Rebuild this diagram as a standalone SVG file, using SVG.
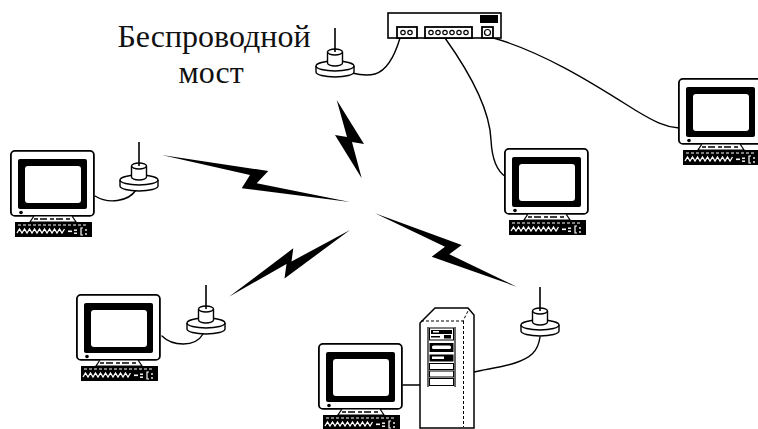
<svg xmlns="http://www.w3.org/2000/svg" width="758" height="429" viewBox="0 0 758 429">
<defs>
<style>
.ln{fill:none;stroke:#000;stroke-width:1.4;stroke-linecap:round}
.bolt{fill:#000}
.lbl{font-family:"Liberation Serif","Times New Roman",serif;font-size:32px;fill:#111;text-anchor:middle}
.ol{fill:#fff;stroke:#000;stroke-width:1.4}
.rim{fill:none;stroke:#000;stroke-width:1.4}
.port{fill:#fff;stroke:#000;stroke-width:1.8}
.jack{fill:none;stroke:#000;stroke-width:1.2}
.bay{fill:#fff;stroke:#000;stroke-width:1}
</style>
<!-- workstation: monitor, stand, keyboard -->
<g id="computer">
  <rect x="0.9" y="0.9" width="83" height="65" rx="4" fill="#fff" stroke="#000" stroke-width="1.8"/>
  <rect x="8" y="9" width="69" height="50" rx="2" fill="#000"/>
  <rect x="15" y="16" width="56" height="37" rx="3" fill="#fff"/>
  <circle cx="11" cy="62.5" r="1.8" fill="#000"/>
  <path d="M24,66 L62,66 L66,72 L20,72 Z" fill="#fff" stroke="#000" stroke-width="1.2"/>
  <line x1="24" y1="69" x2="62" y2="69" stroke="#000" stroke-width="1.5" stroke-dasharray="4 2 7 3"/>
  <rect x="5" y="72" width="77" height="15" fill="#000"/>
  <line x1="8" y1="75" x2="78" y2="75" stroke="#fff" stroke-width="1" stroke-dasharray="3 2"/>
  <polyline points="7,83 9.5,79 12,83 14.5,79 17,83 19.5,79 22,83 24.5,79 27,83 29.5,79 32,83 34.5,79 37,83 39.5,79 42,83 44.5,79 47,83 49.5,79 52,83 54.5,79" fill="none" stroke="#fff" stroke-width="1.3"/>
  <rect x="58" y="80.5" width="4" height="1.6" fill="#fff"/>
  <rect x="64" y="79.5" width="3" height="1.4" fill="#fff"/>
  <rect x="64" y="82.5" width="3" height="1.4" fill="#fff"/>
  <path d="M73,78 L71,78 L71,85 L73,85" fill="none" stroke="#fff" stroke-width="1.2"/>
  <circle cx="76" cy="80" r="0.9" fill="#fff"/>
  <circle cx="76" cy="84" r="0.9" fill="#fff"/>
</g>
<!-- radio base station: disk, cylinder, whip -->
<g id="antenna">
  <path class="ol" d="M-19,0 A19,5 0 0 1 19,0 L19,6 A19,5 0 0 1 -19,6 Z"/>
  <path class="rim" d="M-19,0 A19,5 0 0 0 19,0"/>
  <path class="ol" d="M-7.5,-14 A7.5,3 0 0 1 7.5,-14 L7.5,-3 A7.5,3 0 0 1 -7.5,-3 Z"/>
  <path class="rim" d="M-7.5,-14 A7.5,3 0 0 0 7.5,-14"/>
  <line x1="0" y1="-38" x2="0" y2="-14" stroke="#000" stroke-width="1.6"/>
</g>
</defs>

<rect width="758" height="429" fill="#fff"/>

<!-- cables and radio links -->
<g id="connectors">
  <path class="ln" d="M400,38 C395,55 388,70 375,74 C368,76 360,75 352,73"/>
  <path class="ln" d="M445,38 C475,80 490,115 491,140 C492,160 498,172 506,177"/>
  <path class="ln" d="M490,37 C545,52 600,88 635,110 C655,122 665,127 679,128"/>
  <path class="ln" d="M95,196 C108,204 128,202 136,190"/>
  <path class="ln" d="M162,336 C172,346 195,348 203,334"/>
  <line class="ln" x1="403" y1="385" x2="420" y2="385"/>
  <path class="ln" d="M474,372 C485,369 500,368 515,363 C530,358 538,352 540,337"/>
  <polygon class="bolt" points="336.7,100 364,144 352,142 361.7,178.3 335,135 347,137"/>
  <polygon class="bolt" points="161.7,155 268.3,171 256.7,183.3 350,202 241.7,188.3 250,175"/>
  <polygon class="bolt" points="229,296.7 293.3,248.3 291.5,261.5 350,230 284.5,278.5 286.5,264"/>
  <polygon class="bolt" points="375,213.3 461.7,245 449.3,254.3 516.7,286.7 431.7,256.7 445,246.7"/>
</g>

<!-- wired hub -->
<g id="hub">
  <rect x="388" y="13" width="113" height="25" fill="#fff" stroke="#000" stroke-width="1.6"/>
  <rect x="480" y="15" width="18" height="8" fill="#000"/>
  <rect class="port" x="397" y="27" width="20" height="11"/>
  <circle class="jack" cx="403" cy="32.5" r="2.2"/>
  <circle class="jack" cx="410" cy="32.5" r="2.2"/>
  <rect class="port" x="425" y="27" width="47" height="11"/>
  <circle class="jack" cx="431" cy="32.5" r="2.2"/>
  <circle class="jack" cx="438" cy="32.5" r="2.2"/>
  <circle class="jack" cx="445" cy="32.5" r="2.2"/>
  <circle class="jack" cx="452" cy="32.5" r="2.2"/>
  <circle class="jack" cx="459" cy="32.5" r="2.2"/>
  <circle class="jack" cx="466" cy="32.5" r="2.2"/>
  <rect class="port" x="482" y="27" width="11" height="11"/>
  <circle class="jack" cx="487.5" cy="32.5" r="3"/>
</g>

<!-- wireless bridge -->
<g id="bridge">
  <use href="#antenna" transform="translate(335,66)"/>
  <text class="lbl" x="214" y="47">Беспроводной</text>
  <text class="lbl" x="211" y="83">мост</text>
</g>

<g id="pc-top-left">
  <use href="#computer" transform="translate(10,150)"/>
</g>
<g id="antenna-top-left">
  <use href="#antenna" transform="translate(139,180)"/>
</g>

<g id="pc-center">
  <use href="#computer" transform="translate(504,148)"/>
</g>

<g id="pc-right">
  <use href="#computer" transform="translate(678,78)"/>
</g>

<g id="pc-bottom-left">
  <use href="#computer" transform="translate(76,294)"/>
</g>
<g id="antenna-bottom-left">
  <use href="#antenna" transform="translate(206,323)"/>
</g>

<g id="pc-bottom">
  <use href="#computer" transform="translate(318,343)"/>
</g>

<!-- tower server -->
<g id="server">
  <path d="M420,323 L435,308 L468,308 L474,315 L474,428 L420,428 Z" fill="#fff" stroke="#000" stroke-width="1.5"/>
  <path d="M421,321 L463,321 L469,309" fill="none" stroke="#000" stroke-width="1" stroke-dasharray="3 2"/>
  <line x1="463.5" y1="321" x2="463.5" y2="427" stroke="#000" stroke-width="1" stroke-dasharray="3 2"/>
  <line x1="428" y1="327" x2="428" y2="387" stroke="#000" stroke-width="1.2"/>
  <line x1="455" y1="327" x2="455" y2="387" stroke="#000" stroke-width="1.2"/>
  <rect class="bay" x="429.5" y="328" width="24" height="12"/>
  <rect x="431" y="330" width="21" height="4" fill="#000"/>
  <rect x="433" y="331" width="6" height="1.5" fill="#fff"/>
  <rect x="444" y="335" width="7" height="3.5" fill="#000"/>
  <rect x="431" y="336" width="9" height="1.5" fill="#000"/>
  <rect x="429.5" y="343" width="24" height="9" fill="#000"/>
  <rect x="432" y="345.5" width="19" height="3.5" rx="1.5" fill="#fff"/>
  <rect x="429.5" y="354.5" width="24" height="7" fill="#000"/>
  <rect x="432" y="356.5" width="12" height="2.5" fill="#fff"/>
  <rect class="bay" x="429.5" y="363.5" width="24" height="6"/>
  <rect class="bay" x="429.5" y="371" width="24" height="6"/>
  <rect class="bay" x="429.5" y="378.5" width="24" height="7"/>
</g>

<g id="antenna-right">
  <use href="#antenna" transform="translate(540,325)"/>
</g>
</svg>
